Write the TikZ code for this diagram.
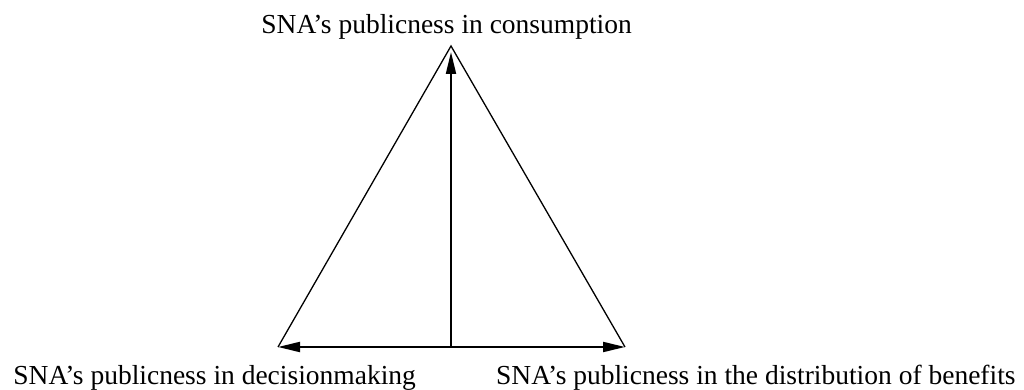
\documentclass[tikz,border=0pt]{standalone}
\usepackage{fontspec}
\setmainfont{Liberation Serif}
\usetikzlibrary{arrows.meta}
\begin{document}
\begin{tikzpicture}[x=0.5pt,y=-0.5pt,
  side/.style={line width=0.65pt},
  arr/.style={line width=1pt,-{Triangle[length=11pt,width=5pt]}},
  lab/.style={inner sep=0pt,font=\fontsize{13.75}{16}\selectfont}]
\useasboundingbox (0,0) rectangle (1024,390);
\coordinate (apex) at (451,46);
\coordinate (L) at (278,347);
\coordinate (R) at (625,347);
\coordinate (M) at (451,347);
\coordinate (tip) at (451,52);
\draw[side] (L) -- (apex) -- (R);
\draw[arr] (M) -- (tip);
\draw[arr] (M) -- (L);
\draw[arr] (M) -- (R);
\node[lab,anchor=base west] (top) at (261,34) {SNA’s publicness in consumption};
\node[lab,anchor=base west] (left) at (13,384) {SNA’s publicness in decisionmaking};
\node[lab,anchor=base east] (right) at (1016,384) {SNA’s publicness in the distribution of benefits};
\end{tikzpicture}
\end{document}
